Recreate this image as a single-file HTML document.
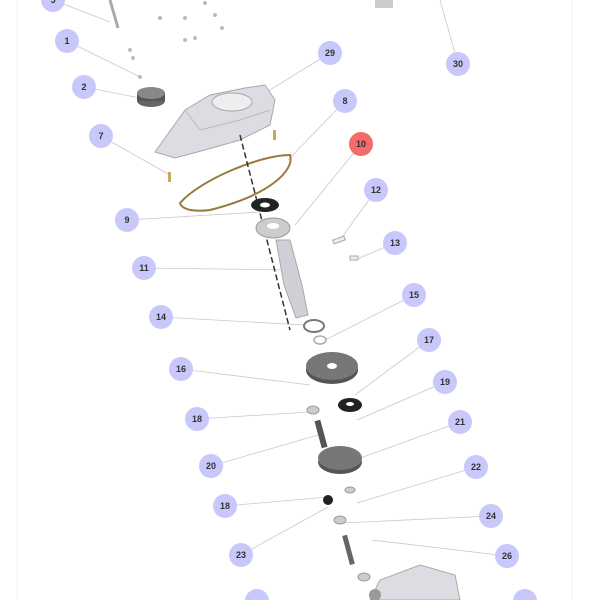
<!DOCTYPE html>
<html><head><meta charset="utf-8"><style>
html,body{margin:0;padding:0;background:#fff;}
svg{display:block;}
text{font-family:"Liberation Sans",sans-serif;font-weight:bold;font-size:9px;fill:#333;text-anchor:middle;dominant-baseline:central;}
</style></head><body>
<svg width="600" height="600" viewBox="0 0 600 600" xmlns="http://www.w3.org/2000/svg">
<rect x="17" y="-2" width="555" height="610" fill="none" stroke="#f0f0f0" stroke-width="1"/>
<g stroke="#c8c8c8" stroke-width="0.8" fill="none">
<line x1="53" y1="0" x2="110" y2="22"/>
<line x1="67" y1="41" x2="140" y2="77"/>
<line x1="84" y1="87" x2="140" y2="98"/>
<line x1="330" y1="53" x2="265" y2="93"/>
<line x1="458" y1="64" x2="440" y2="0"/>
<line x1="345" y1="101" x2="288" y2="160"/>
<line x1="101" y1="136" x2="170" y2="175"/>
<line x1="361" y1="144" x2="295" y2="225"/>
<line x1="376" y1="190" x2="340" y2="240"/>
<line x1="127" y1="220" x2="260" y2="212"/>
<line x1="395" y1="243" x2="357" y2="259"/>
<line x1="144" y1="268" x2="290" y2="270"/>
<line x1="414" y1="295" x2="325" y2="340"/>
<line x1="161" y1="317" x2="305" y2="325"/>
<line x1="429" y1="340" x2="355" y2="395"/>
<line x1="181" y1="369" x2="310" y2="385"/>
<line x1="445" y1="382" x2="357" y2="420"/>
<line x1="197" y1="419" x2="310" y2="412"/>
<line x1="460" y1="422" x2="355" y2="460"/>
<line x1="211" y1="466" x2="318" y2="435"/>
<line x1="476" y1="467" x2="357" y2="503"/>
<line x1="225" y1="506" x2="328" y2="497"/>
<line x1="491" y1="516" x2="342" y2="523"/>
<line x1="241" y1="555" x2="328" y2="507"/>
<line x1="507" y1="556" x2="372" y2="540"/>
</g>
<g>
<line x1="110" y1="0" x2="118" y2="28" stroke="#aaa" stroke-width="3"/>
<g fill="#bbb"><circle cx="160" cy="18" r="2"/><circle cx="185" cy="18" r="2"/><circle cx="205" cy="3" r="2"/><circle cx="215" cy="15" r="2"/><circle cx="222" cy="28" r="2"/><circle cx="195" cy="38" r="2"/><circle cx="130" cy="50" r="2"/><circle cx="133" cy="58" r="2"/><circle cx="140" cy="77" r="2"/><circle cx="185" cy="40" r="2"/></g>
<rect x="375" y="0" width="18" height="8" fill="#ccc"/>
<ellipse cx="151" cy="101" rx="14" ry="6" fill="#666"/>
<rect x="137" y="93" width="28" height="8" fill="#555"/>
<ellipse cx="151" cy="93" rx="14" ry="6" fill="#888"/>
<path d="M155 152 L185 110 L210 95 L245 88 L265 85 L275 100 L270 125 L240 140 L205 150 L175 158 Z" fill="#dcdce2" stroke="#aaa" stroke-width="1"/>
<path d="M185 110 L200 130 L240 120 L270 110" fill="none" stroke="#bbb"/>
<ellipse cx="232" cy="102" rx="20" ry="9" fill="#eee" stroke="#aaa"/>
<rect x="273" y="130" width="3" height="10" fill="#c9a860"/>
<rect x="168" y="172" width="3" height="10" fill="#c9a860"/>
<path d="M180 203 C200 180 260 155 290 155 C295 170 270 195 210 210 C195 212 182 210 180 203 Z" fill="none" stroke="#9a7a3a" stroke-width="2"/>
<line x1="240" y1="135" x2="290" y2="330" stroke="#333" stroke-width="1.5" stroke-dasharray="6 3"/>
<ellipse cx="265" cy="205" rx="14" ry="7" fill="#222"/>
<ellipse cx="265" cy="205" rx="5" ry="2.5" fill="#fff"/>
<ellipse cx="273" cy="228" rx="17" ry="10" fill="#ccc" stroke="#999"/>
<ellipse cx="273" cy="226" rx="6" ry="3" fill="#fff"/>
<rect x="333" y="238" width="12" height="4" fill="#eee" stroke="#aaa" transform="rotate(-20 339 240)"/>
<rect x="350" y="256" width="8" height="4" fill="#eee" stroke="#aaa"/>
<path d="M276 240 L290 240 L302 285 L308 315 L296 318 L284 285 Z" fill="#cfcfd5" stroke="#aaa"/>
<ellipse cx="314" cy="326" rx="10" ry="6" fill="none" stroke="#777" stroke-width="2"/>
<ellipse cx="320" cy="340" rx="6" ry="4" fill="none" stroke="#aaa" stroke-width="1.5"/>
<ellipse cx="332" cy="370" rx="26" ry="14" fill="#555"/>
<ellipse cx="332" cy="366" rx="26" ry="14" fill="#777"/>
<ellipse cx="332" cy="366" rx="5" ry="3" fill="#fff"/>
<ellipse cx="350" cy="405" rx="12" ry="7" fill="#222"/>
<ellipse cx="350" cy="404" rx="4" ry="2" fill="#fff"/>
<ellipse cx="313" cy="410" rx="6" ry="4" fill="#ccc" stroke="#999"/>
<rect x="318" y="420" width="6" height="28" fill="#555" transform="rotate(-15 321 434)"/>
<ellipse cx="340" cy="462" rx="22" ry="12" fill="#555"/>
<ellipse cx="340" cy="458" rx="22" ry="12" fill="#777"/>
<ellipse cx="350" cy="490" rx="5" ry="3" fill="#ccc" stroke="#999"/>
<circle cx="328" cy="500" r="5" fill="#222"/>
<ellipse cx="340" cy="520" rx="6" ry="4" fill="#ccc" stroke="#999"/>
<rect x="346" y="535" width="5" height="30" fill="#666" transform="rotate(-15 348 550)"/>
<ellipse cx="364" cy="577" rx="6" ry="4" fill="#ccc" stroke="#999"/>
<path d="M370 600 L380 580 L420 565 L455 575 L460 600 Z" fill="#dcdce2" stroke="#aaa"/>
<circle cx="375" cy="595" r="6" fill="#999"/>
</g>
<g fill="#c8c8fb">
<circle cx="53" cy="0" r="12"/><circle cx="67" cy="41" r="12"/><circle cx="84" cy="87" r="12"/>
<circle cx="330" cy="53" r="12"/><circle cx="458" cy="64" r="12"/><circle cx="345" cy="101" r="12"/>
<circle cx="101" cy="136" r="12"/><circle cx="376" cy="190" r="12"/><circle cx="127" cy="220" r="12"/>
<circle cx="395" cy="243" r="12"/><circle cx="144" cy="268" r="12"/><circle cx="414" cy="295" r="12"/>
<circle cx="161" cy="317" r="12"/><circle cx="429" cy="340" r="12"/><circle cx="181" cy="369" r="12"/>
<circle cx="445" cy="382" r="12"/><circle cx="197" cy="419" r="12"/><circle cx="460" cy="422" r="12"/>
<circle cx="211" cy="466" r="12"/><circle cx="476" cy="467" r="12"/><circle cx="225" cy="506" r="12"/>
<circle cx="491" cy="516" r="12"/><circle cx="241" cy="555" r="12"/><circle cx="507" cy="556" r="12"/>
<circle cx="257" cy="601" r="12"/><circle cx="525" cy="601" r="12"/>
</g>
<circle cx="361" cy="144" r="12" fill="#f56a6a"/>
<text x="53" y="0">5</text><text x="67" y="41">1</text><text x="84" y="87">2</text>
<text x="330" y="53">29</text><text x="458" y="64">30</text><text x="345" y="101">8</text>
<text x="101" y="136">7</text><text x="361" y="144">10</text><text x="376" y="190">12</text>
<text x="127" y="220">9</text><text x="395" y="243">13</text><text x="144" y="268">11</text>
<text x="414" y="295">15</text><text x="161" y="317">14</text><text x="429" y="340">17</text>
<text x="181" y="369">16</text><text x="445" y="382">19</text><text x="197" y="419">18</text>
<text x="460" y="422">21</text><text x="211" y="466">20</text><text x="476" y="467">22</text>
<text x="225" y="506">18</text><text x="491" y="516">24</text><text x="241" y="555">23</text>
<text x="507" y="556">26</text>
</svg>
</body></html>
